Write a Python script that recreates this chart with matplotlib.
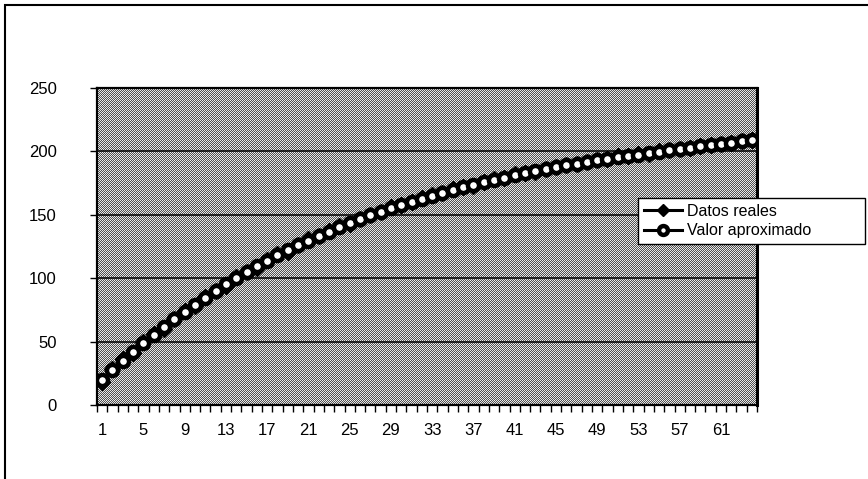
import numpy as np
import matplotlib
matplotlib.use('Agg')
import matplotlib.pyplot as plt
from matplotlib.patches import Rectangle

plt.rcParams['font.family'] = ['Liberation Sans', 'DejaVu Sans']

# datos de la serie: 64 periodos
periodos = list(range(1, 65))
datos_reales = [18, 28, 36, 41, 50, 56, 60, 68, 74, 78,
                85, 90, 94, 101, 105, 108, 114, 119, 121, 126,
                131, 133, 137, 141, 143, 147, 150, 152, 156, 158,
                160, 163, 166, 167, 170, 172, 173, 176, 178, 179,
                182, 183, 184, 186, 188, 189, 190, 192, 193, 194,
                196, 196, 198, 198, 200, 201, 202, 203, 204, 205,
                206, 207, 208, 209]
valor_aprox = [20, 27.5, 35, 42, 49, 55.5, 61.5, 67.5, 73.3, 79,
               84.6, 89.9, 95.1, 100, 104.8, 109.3, 113.7, 118, 122, 126,
               129.7, 133.4, 136.8, 140.2, 143.4, 146.5, 149.5, 152.4, 155.2, 157.8,
               160.4, 162.8, 165.2, 167.5, 169.7, 171.8, 173.8, 175.7, 177.6, 179.4,
               181.2, 182.8, 184.4, 186, 187.5, 188.9, 190.3, 191.6, 192.9, 194.1,
               195.3, 196.4, 197.5, 198.5, 199.5, 201, 202, 203, 204, 205,
               206, 207, 208, 209]
yticks = [0, 50, 100, 150, 200, 250]
xlabels = periodos[::4]

W, H = 868, 479
fig = plt.figure(figsize=(W / 100, H / 100), dpi=100)
fig.patch.set_facecolor('white')

# posicion del area de trazado en pixeles
x0, x1, y0, y1 = 97, 757, 74, 391
ax = fig.add_axes([x0 / W, y0 / H, (x1 - x0) / W, (y1 - y0) / H])
ax.set_facecolor('none')
ax.set_zorder(2)

# trama gris de fondo (tablero de pixeles)
pw, ph = x1 - x0, y1 - y0
ii, jj = np.indices((ph, pw))
trama = np.where((ii + jj) % 2 == 0, 0.32, 0.9)
trama = np.where((ii % 4 == 0) & (jj % 4 == 1), 0.95, trama)
fig.figimage(trama, xo=x0, yo=y0, cmap='gray', vmin=0, vmax=1, zorder=0)

x = np.arange(len(periodos))
ax.plot(x, datos_reales, color='black', lw=2.2, marker='D', ms=8,
        mfc='black', mec='black', label='Datos reales', zorder=3)
ax.plot(x, valor_aprox, color='black', lw=2.2, marker='o', ms=8,
        mfc='white', mec='black', mew=3.2, label='Valor aproximado', zorder=4)

ax.set_xlim(-0.5, len(periodos) - 0.5)
ax.set_ylim(0, 250)
ax.set_yticks(yticks)
for v in yticks[1:-1]:
    ax.axhline(v, color='black', lw=1.1, zorder=1)

ax.set_xticks(x[::4])
ax.set_xticklabels([str(v) for v in xlabels])
ax.set_xticks(np.arange(len(periodos) + 1) - 0.5, minor=True)
ax.tick_params(axis='x', which='major', length=0, pad=13, labelsize=12)
ax.tick_params(axis='x', which='minor', length=5, width=1, direction='out')
ax.tick_params(axis='y', length=5, width=1, direction='out', pad=24, labelsize=12)

for s in ax.spines.values():
    s.set_color('black')
    s.set_linewidth(1.6)
ax.spines['right'].set_linewidth(2.2)

# leyenda sobre el borde derecho del area de trazado
leg_x = (638 - x0) / pw
leg_top = (H - 198 - y0) / ph
leg_w = (865 - 638) / pw
leg = ax.legend(loc='upper left', bbox_to_anchor=(leg_x, leg_top - 0.15, leg_w, 0.15),
                mode='expand', frameon=True, fancybox=False, framealpha=1,
                edgecolor='black', fontsize=11.5, handlelength=2.4,
                handletextpad=0.3, borderpad=0.35, labelspacing=0.3,
                borderaxespad=0, markerscale=0.8)
leg.get_frame().set_linewidth(1.0)
leg.set_zorder(10)

# marco exterior del grafico
fig.patches.append(Rectangle((5 / W, -0.1), 1.2, 1.1 - 5 / H,
                             transform=fig.transFigure, fill=False,
                             edgecolor='black', lw=1.5))

fig.savefig('out.png', dpi=100, facecolor='white')
